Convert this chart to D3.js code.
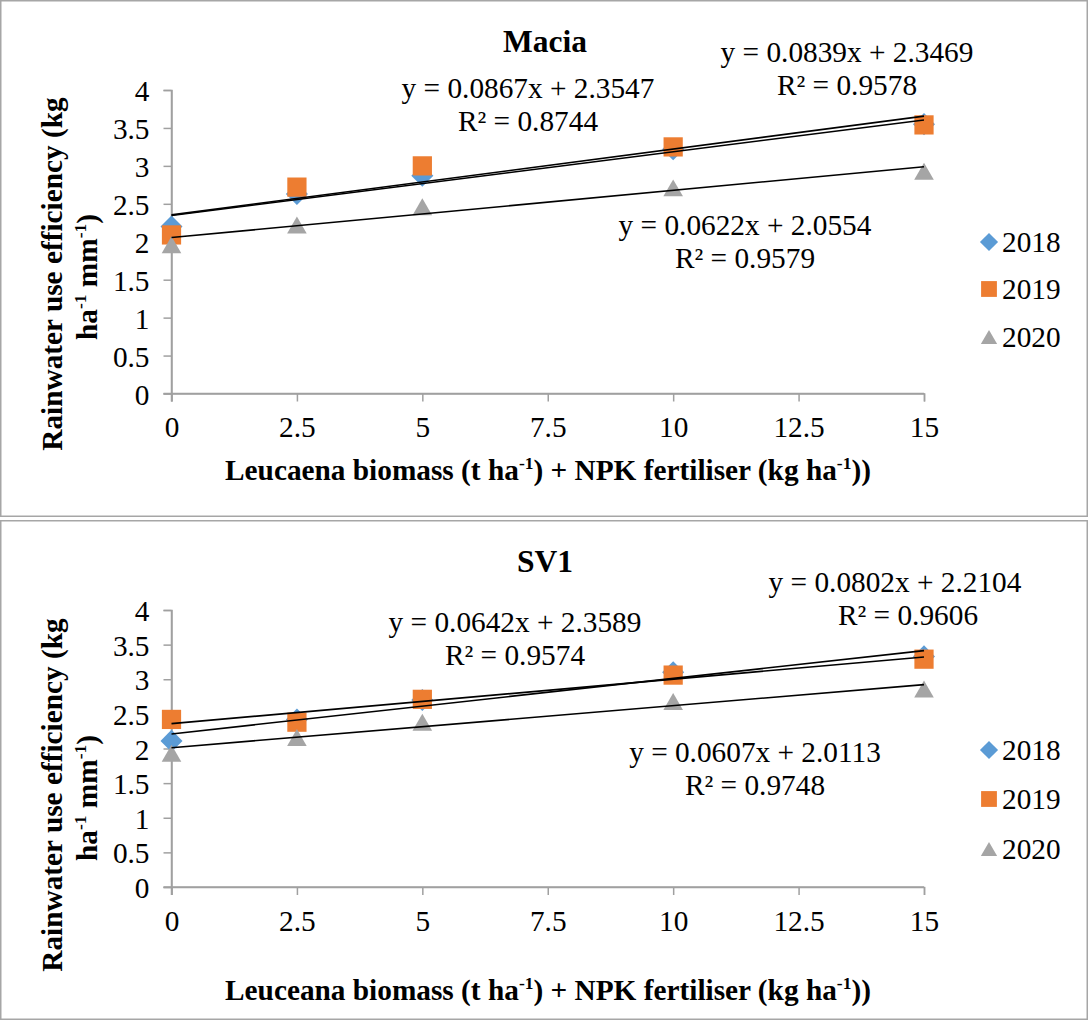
<!DOCTYPE html>
<html>
<head>
<meta charset="utf-8">
<script src="https://cdn.jsdelivr.net/npm/d3@7"></script>
<style>
  html, body { margin: 0; padding: 0; background: #fff; }
</style>
</head>
<body>
<svg id="chart" width="1089" height="1020"></svg>
<script>
// Rainwater use efficiency vs. Leucaena biomass + NPK fertiliser, two sites
const years = ["2018", "2019", "2020"];
const treatmentLevels = [0, 2.5, 5, 10, 15];
const xTicks = [0, 2.5, 5, 7.5, 10, 12.5, 15];
const yTicks = [0, 0.5, 1, 1.5, 2, 2.5, 3, 3.5, 4];

const maciaRwue2018 = [2.20, 2.63, 2.87, 3.22, 3.55];
const maciaRwue2019 = [2.09, 2.72, 3.00, 3.25, 3.54];
const maciaRwue2020 = [1.96, 2.22, 2.46, 2.71, 2.93];
const maciaSlopes = [0.0839, 0.0867, 0.0622];
const maciaIntercepts = [2.3469, 2.3547, 2.0554];
const maciaR2 = [0.9578, 0.8744, 0.9579];

const sv1Rwue2018 = [2.11, 2.42, 2.70, 3.10, 3.33];
const sv1Rwue2019 = [2.42, 2.38, 2.71, 3.06, 3.29];
const sv1Rwue2020 = [1.93, 2.16, 2.38, 2.68, 2.86];
const sv1Slopes = [0.0802, 0.0642, 0.0607];
const sv1Intercepts = [2.2104, 2.3589, 2.0113];
const sv1R2 = [0.9606, 0.9574, 0.9748];

const colors = ["#5b9bd5", "#ed7d31", "#a5a5a5"];
const symbols = [d3.symbolDiamond2, d3.symbolSquare, d3.symbolTriangle2];
const markerSizes = [310, 370, 275];
const legendSizes = [210, 250, 190];

const svg = d3.select("#chart");
const FONT = '"Liberation Serif", "Times New Roman", serif';
const FS = 29.3;
const SUP = 17.5;

function txt(sel) {
  return sel.style("font-family", FONT).attr("fill", "#000");
}

// triangle symbols are centred on their centroid; shift so the box is centred
function symbolOffset(i, size) {
  return i === 2 ? Math.sqrt(size) * 0.6824 / 4 : 0;
}

function drawPanel(cfg) {
  const g = svg.append("g");
  // panel frame
  g.append("rect")
    .attr("x", 0.75).attr("y", cfg.top + 0.75)
    .attr("width", 1086.5).attr("height", cfg.height - 1.5)
    .attr("fill", "#fff").attr("stroke", "#a6a6a6").attr("stroke-width", 1.5);

  const x = d3.scaleLinear().domain([0, 15]).range([171.5, 924]);
  const y = d3.scaleLinear().domain([0, 4]).range([cfg.y0, cfg.y4]);

  // axes
  const yAxis = g.append("g").attr("transform", `translate(${x(0)},0)`)
    .call(d3.axisLeft(y).tickValues(yTicks).tickSize(8).tickPadding(14)
      .tickFormat(d => d3.format("")(d)));
  const xAxis = g.append("g").attr("transform", `translate(0,${y(0)})`)
    .call(d3.axisBottom(x).tickValues(xTicks).tickSize(8).tickPadding(15)
      .tickFormat(d => d3.format("")(d)));
  [xAxis, yAxis].forEach(a => {
    a.attr("font-family", null);
    a.select(".domain").attr("stroke", "#a0a0a0").attr("stroke-width", 1.5);
    a.selectAll(".tick line").attr("stroke", "#a0a0a0").attr("stroke-width", 1.5);
    txt(a.selectAll(".tick text")).attr("font-size", FS);
  });
  // extend axis lines through the tick marks
  g.append("line").attr("x1", x(0) - 8).attr("x2", x(15)).attr("y1", y(0)).attr("y2", y(0))
    .attr("stroke", "#a0a0a0").attr("stroke-width", 1.5);
  g.append("line").attr("x1", x(0)).attr("x2", x(0)).attr("y1", y(4)).attr("y2", y(0) + 8)
    .attr("stroke", "#a0a0a0").attr("stroke-width", 1.5);
  yAxis.selectAll(".tick text").attr("dy", "0.36em");

  // markers
  cfg.series.forEach((vals, i) => {
    const off = symbolOffset(i, markerSizes[i]);
    g.append("g").selectAll("path").data(vals).join("path")
      .attr("d", d3.symbol().type(symbols[i]).size(markerSizes[i]))
      .attr("transform", (d, k) => `translate(${x(treatmentLevels[k])},${y(d) + off})`)
      .attr("fill", colors[i]);
  });

  // linear trend lines
  cfg.slopes.forEach((m, i) => {
    const b = cfg.intercepts[i];
    g.append("line")
      .attr("x1", x(0)).attr("y1", y(b))
      .attr("x2", x(15)).attr("y2", y(m * 15 + b))
      .attr("stroke", "#000").attr("stroke-width", 1.6);
  });

  // trend equations
  cfg.slopes.forEach((m, i) => {
    const p = cfg.labelPos[i];
    txt(g.append("text")).attr("x", p[0]).attr("y", p[1]).attr("text-anchor", "middle")
      .attr("font-size", FS)
      .text(`y = ${m.toFixed(4)}x + ${cfg.intercepts[i].toFixed(4)}`);
    txt(g.append("text")).attr("x", p[2]).attr("y", p[1] + 33).attr("text-anchor", "middle")
      .attr("font-size", FS)
      .text(`R² = ${cfg.r2[i].toFixed(4)}`);
  });

  // title
  txt(g.append("text")).attr("x", 545).attr("y", cfg.top + 52).attr("text-anchor", "middle")
    .attr("font-size", 31.5).attr("font-weight", "bold").text(cfg.title);

  // y axis title (two lines)
  const cy = cfg.yTitleCenter;
  txt(g.append("text")).attr("transform", `translate(62,${cy}) rotate(-90)`)
    .attr("text-anchor", "middle").attr("font-size", FS).attr("font-weight", "bold")
    .text("Rainwater use efficiency (kg");
  const l2 = txt(g.append("text")).attr("transform", `translate(97,${cy + 3}) rotate(-90)`)
    .attr("text-anchor", "middle").attr("font-size", FS).attr("font-weight", "bold");
  l2.append("tspan").text("ha");
  l2.append("tspan").attr("font-size", SUP).attr("dy", -11).text("-1");
  l2.append("tspan").attr("dy", 11).text(" mm");
  l2.append("tspan").attr("font-size", SUP).attr("dy", -11).text("-1");
  l2.append("tspan").attr("dy", 11).text(")");

  // x axis title
  const xt = txt(g.append("text")).attr("x", 548).attr("y", cfg.xTitleY)
    .attr("text-anchor", "middle").attr("font-size", FS).attr("font-weight", "bold");
  xt.append("tspan").text(cfg.xTitle + " biomass (t ha");
  xt.append("tspan").attr("font-size", SUP).attr("dy", -11).text("-1");
  xt.append("tspan").attr("dy", 11).text(") + NPK fertiliser (kg ha");
  xt.append("tspan").attr("font-size", SUP).attr("dy", -11).text("-1");
  xt.append("tspan").attr("dy", 11).text("))");

  // legend
  years.forEach((yr, i) => {
    const ly = cfg.legendY[i];
    const off = symbolOffset(i, legendSizes[i]);
    g.append("path").attr("d", d3.symbol().type(symbols[i]).size(legendSizes[i]))
      .attr("transform", `translate(989,${ly + off})`).attr("fill", colors[i]);
    txt(g.append("text")).attr("x", 1002).attr("y", ly + 10).attr("font-size", FS).text(yr);
  });
}

drawPanel({
  title: "Macia", top: 0, height: 517,
  y0: 393.5, y4: 90,
  series: [maciaRwue2018, maciaRwue2019, maciaRwue2020],
  slopes: maciaSlopes, intercepts: maciaIntercepts, r2: maciaR2,
  labelPos: [[847, 62, 847], [528, 98, 528], [745, 235, 745]],
  yTitleCenter: 274, xTitleY: 480, xTitle: "Leucaena",
  legendY: [242, 289, 337]
});

drawPanel({
  title: "SV1", top: 520, height: 500,
  y0: 887, y4: 610,
  series: [sv1Rwue2018, sv1Rwue2019, sv1Rwue2020],
  slopes: sv1Slopes, intercepts: sv1Intercepts, r2: sv1R2,
  labelPos: [[895, 592, 908], [515, 632, 515], [755, 762, 755]],
  yTitleCenter: 795, xTitleY: 1000, xTitle: "Leuceana",
  legendY: [750, 799, 849]
});
</script>
</body>
</html>
